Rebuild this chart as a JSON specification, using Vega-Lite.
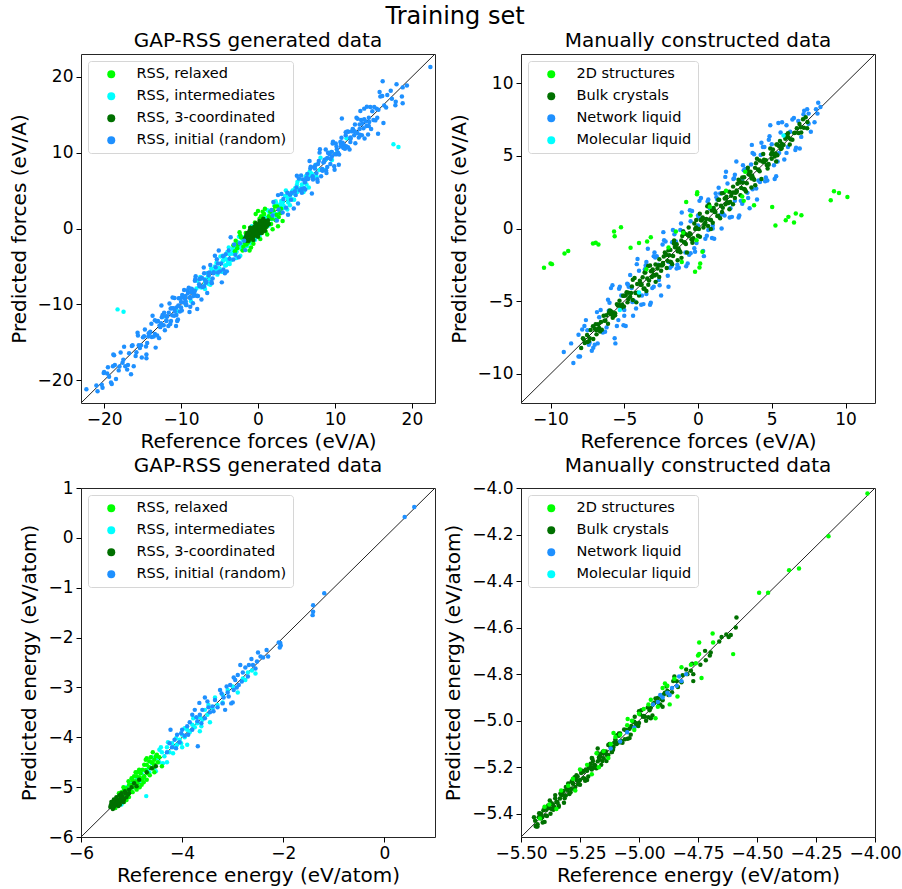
{
"$schema": "https://vega.github.io/schema/vega-lite/v6.json",
"title": {"text": "Training set", "fontSize": 24, "anchor": "middle", "frame": "bounds", "offset": 1},
"padding": {"left": 8, "top": 5, "right": 5, "bottom": 5},
"bounds": "flush",
"columns": 2,
"spacing": {"row": 85, "column": 86},
"resolve": {"scale": {"color": "independent"}, "legend": {"color": "independent"}},
"datasets": {
"tl": [
{"s":"M","x":-9.5,"y":-9.1},{"s":"M","x":-8.7,"y":-9.6},{"s":"M","x":-8.0,"y":-7.9},{"s":"M","x":-7.5,"y":-6.4},{"s":"M","x":-7.0,"y":-7.5},{"s":"M","x":-6.6,"y":-5.9},{"s":"M","x":-6.2,"y":-7.4},{"s":"M","x":-5.8,"y":-5.6},{"s":"M","x":-5.4,"y":-4.5},{"s":"M","x":-5.0,"y":-5.3},{"s":"M","x":-4.7,"y":-5.7},{"s":"M","x":-4.4,"y":-3.8},{"s":"M","x":-4.1,"y":-4.1},{"s":"M","x":-3.8,"y":-2.5},{"s":"M","x":-3.5,"y":-4.2},{"s":"M","x":-3.2,"y":-2.9},{"s":"M","x":-2.9,"y":-3.1},{"s":"M","x":-2.6,"y":-1.8},{"s":"M","x":-2.3,"y":-3.6},{"s":"M","x":-2.0,"y":-1.5},{"s":"M","x":-1.7,"y":-1.3},{"s":"M","x":-1.4,"y":-2.3},{"s":"M","x":-1.1,"y":-1.0},{"s":"M","x":-0.8,"y":0.3},{"s":"M","x":-0.5,"y":-1.0},{"s":"M","x":-0.2,"y":0.5},{"s":"M","x":0.2,"y":-1.0},{"s":"M","x":0.5,"y":0.7},{"s":"M","x":0.8,"y":1.7},{"s":"M","x":1.1,"y":0.8},{"s":"M","x":1.4,"y":0.4},{"s":"M","x":1.7,"y":2.3},{"s":"M","x":2.0,"y":2.0},{"s":"M","x":2.3,"y":3.6},{"s":"M","x":2.6,"y":1.9},{"s":"M","x":2.9,"y":3.2},{"s":"M","x":3.2,"y":3.0},{"s":"M","x":3.5,"y":4.3},{"s":"M","x":3.8,"y":2.5},{"s":"M","x":4.1,"y":4.6},{"s":"M","x":4.4,"y":4.8},{"s":"M","x":4.7,"y":3.8},{"s":"M","x":5.0,"y":5.1},{"s":"M","x":5.4,"y":6.5},{"s":"M","x":5.8,"y":5.3},{"s":"M","x":6.2,"y":6.9},{"s":"M","x":6.6,"y":5.4},{"s":"M","x":7.0,"y":7.2},{"s":"M","x":7.5,"y":8.4},{"s":"M","x":8.0,"y":7.7},{"s":"M","x":8.7,"y":7.7},{"s":"M","x":9.5,"y":10.1},
{"s":"M","x":-9.38,"y":-10.08},{"s":"M","x":-8.58,"y":-8.08},{"s":"M","x":-7.88,"y":-6.88},{"s":"M","x":-7.38,"y":-7.78},{"s":"M","x":-6.88,"y":-7.98},{"s":"M","x":-6.48,"y":-6.28},{"s":"M","x":-6.08,"y":-5.28},{"s":"M","x":-5.68,"y":-5.78},{"s":"M","x":-5.28,"y":-6.08},{"s":"M","x":-4.88,"y":-3.68},{"s":"M","x":-4.58,"y":-4.28},{"s":"M","x":-4.28,"y":-4.88},{"s":"M","x":-3.98,"y":-3.08},{"s":"M","x":-3.68,"y":-4.68},{"s":"M","x":-3.38,"y":-3.28},{"s":"M","x":-3.08,"y":-2.48},{"s":"M","x":-2.78,"y":-3.08},{"s":"M","x":-2.48,"y":-1.08},{"s":"M","x":-2.18,"y":-2.68},{"s":"M","x":-1.88,"y":-2.08},{"s":"M","x":-1.58,"y":-2.28},{"s":"M","x":-1.28,"y":-0.78},{"s":"M","x":-0.98,"y":0.02},{"s":"M","x":-0.68,"y":-1.08},{"s":"M","x":-0.38,"y":-1.48},{"s":"M","x":-0.08,"y":0.12},{"s":"M","x":0.32,"y":1.12},{"s":"M","x":0.62,"y":0.52},{"s":"M","x":0.92,"y":0.12},{"s":"M","x":1.22,"y":2.42},{"s":"M","x":1.52,"y":1.82},{"s":"M","x":1.82,"y":1.22},{"s":"M","x":2.12,"y":3.02},{"s":"M","x":2.42,"y":1.42},{"s":"M","x":2.72,"y":2.82},{"s":"M","x":3.02,"y":3.62},{"s":"M","x":3.32,"y":3.02},{"s":"M","x":3.62,"y":5.02},{"s":"M","x":3.92,"y":3.42},{"s":"M","x":4.22,"y":4.02},{"s":"M","x":4.52,"y":3.82},{"s":"M","x":4.82,"y":5.32},{"s":"M","x":5.12,"y":6.12},{"s":"M","x":5.52,"y":5.12},{"s":"M","x":5.92,"y":4.82},{"s":"M","x":6.32,"y":6.52},{"s":"M","x":6.72,"y":7.52},{"s":"M","x":7.12,"y":7.02},{"s":"M","x":7.62,"y":6.82},{"s":"M","x":8.12,"y":9.32},{"s":"M","x":8.82,"y":9.12},{"s":"M","x":9.62,"y":9.02},
{"s":"M","x":-6.9,"y":-6.7},{"s":"M","x":-6.3,"y":-6.7},{"s":"M","x":-5.6,"y":-5.0},{"s":"M","x":-5.1,"y":-5.2},{"s":"M","x":-4.5,"y":-4.2},{"s":"M","x":-3.9,"y":-4.5},{"s":"M","x":-3.3,"y":-3.3},{"s":"M","x":-2.7,"y":-2.2},{"s":"M","x":-2.1,"y":-2.4},{"s":"M","x":-1.5,"y":-1.4},{"s":"M","x":-0.9,"y":-1.4},{"s":"M","x":-0.3,"y":0.1},{"s":"M","x":0.3,"y":0.5},{"s":"M","x":0.9,"y":0.5},{"s":"M","x":1.5,"y":2.1},{"s":"M","x":2.1,"y":2.0},{"s":"M","x":2.7,"y":3.0},{"s":"M","x":3.3,"y":2.7},{"s":"M","x":3.9,"y":3.9},{"s":"M","x":4.5,"y":5.0},{"s":"M","x":5.1,"y":4.8},{"s":"M","x":5.7,"y":5.8},{"s":"M","x":6.3,"y":5.8},{"s":"M","x":6.9,"y":7.3},
{"s":"M","x":-7.3,"y":-6.6},{"s":"M","x":-6.85,"y":-7.05},{"s":"M","x":-6.4,"y":-7.3},{"s":"M","x":-5.95,"y":-5.55},{"s":"M","x":-5.5,"y":-5.4},{"s":"M","x":-5.05,"y":-5.55},{"s":"M","x":-4.6,"y":-3.6},{"s":"M","x":-4.15,"y":-4.85},{"s":"M","x":-3.7,"y":-3.4},{"s":"M","x":-3.25,"y":-2.65},{"s":"M","x":-2.8,"y":-3.9},{"s":"M","x":-2.35,"y":-2.35},{"s":"M","x":-1.9,"y":-1.2},{"s":"M","x":-1.45,"y":-1.65},{"s":"M","x":-1.0,"y":-1.9},{"s":"M","x":1.0,"y":1.4},{"s":"M","x":1.45,"y":1.55},{"s":"M","x":1.9,"y":1.4},{"s":"M","x":2.35,"y":3.35},{"s":"M","x":2.8,"y":2.1},{"s":"M","x":3.25,"y":3.55},{"s":"M","x":3.7,"y":4.3},{"s":"M","x":4.15,"y":3.05},{"s":"M","x":4.6,"y":4.6},{"s":"M","x":5.05,"y":5.75},{"s":"M","x":5.5,"y":5.3},{"s":"M","x":5.95,"y":5.05},{"s":"M","x":6.4,"y":6.8},{"s":"M","x":6.85,"y":6.95},{"s":"M","x":7.3,"y":6.8},
{"s":"M","x":-18.25,"y":-10.66},{"s":"M","x":-17.47,"y":-10.97},{"s":"M","x":17.6,"y":11.09},{"s":"M","x":18.25,"y":10.74},{"s":"M","x":-12.3,"y":-11.6},{"s":"M","x":11.5,"y":11.9},{"s":"M","x":-10.5,"y":-10.9},{"s":"M","x":10.3,"y":10.0},
{"s":"R","x":-2.6,"y":-2.1},{"s":"R","x":-2.2,"y":-1.2},{"s":"R","x":-1.9,"y":-2.4},{"s":"R","x":-1.6,"y":-0.6},{"s":"R","x":-1.3,"y":-1.8},{"s":"R","x":-1.0,"y":0.1},{"s":"R","x":-0.7,"y":-1.5},{"s":"R","x":-0.4,"y":0.8},{"s":"R","x":-0.1,"y":-0.9},{"s":"R","x":0.2,"y":1.3},{"s":"R","x":0.5,"y":-0.4},{"s":"R","x":0.8,"y":1.9},{"s":"R","x":1.1,"y":0.2},{"s":"R","x":1.4,"y":1.6},{"s":"R","x":1.7,"y":0.6},{"s":"R","x":2.0,"y":2.4},{"s":"R","x":2.3,"y":1.1},{"s":"R","x":2.6,"y":0.3},{"s":"R","x":2.9,"y":2.0},{"s":"R","x":-2.9,"y":-1.6},{"s":"R","x":-0.3,"y":1.9},{"s":"R","x":0.3,"y":-1.4},{"s":"R","x":1.9,"y":-0.1},{"s":"R","x":-1.8,"y":0.2},{"s":"R","x":0.9,"y":2.6},{"s":"R","x":-0.9,"y":-2.5},{"s":"R","x":2.2,"y":2.9},{"s":"R","x":3.2,"y":1.0},{"s":"R","x":-3.0,"y":-3.0},{"s":"R","x":1.2,"y":-0.8},{"s":"R","x":-1.1,"y":-2.9},{"s":"R","x":0.0,"y":2.3},{"s":"R","x":2.7,"y":1.5},{"s":"R","x":-2.4,"y":-0.5},
{"s":"R","x":-2.0,"y":-2.9},{"s":"R","x":-2.7,"y":-2.6},{"s":"R","x":-1.5,"y":-2.1},{"s":"R","x":1.6,"y":2.2},{"s":"R","x":2.4,"y":1.8},{"s":"R","x":2.5,"y":2.9},{"s":"R","x":1.0,"y":-0.4},{"s":"R","x":-0.6,"y":-2.0},{"s":"R","x":-2.3,"y":-0.9},{"s":"R","x":0.6,"y":2.2},{"s":"R","x":1.8,"y":1.3},{"s":"R","x":-1.7,"y":-1.9},{"s":"R","x":3.0,"y":2.6},{"s":"R","x":-3.2,"y":-2.2},{"s":"R","x":0.4,"y":1.6},
{"s":"C","x":-1.6,"y":-1.2},{"s":"C","x":-1.4,"y":-0.6},{"s":"C","x":-1.3,"y":-1.4},{"s":"C","x":-1.2,"y":-0.9},{"s":"C","x":-1.1,"y":-0.3},{"s":"C","x":-1.0,"y":-1.1},{"s":"C","x":-0.9,"y":-0.6},{"s":"C","x":-0.8,"y":-1.3},{"s":"C","x":-0.8,"y":-0.1},{"s":"C","x":-0.7,"y":-0.8},{"s":"C","x":-0.6,"y":-0.4},{"s":"C","x":-0.5,"y":-1.0},{"s":"C","x":-0.5,"y":0.2},{"s":"C","x":-0.4,"y":-0.6},{"s":"C","x":-0.3,"y":-0.1},{"s":"C","x":-0.2,"y":-0.9},{"s":"C","x":-0.2,"y":0.4},{"s":"C","x":-0.1,"y":-0.4},{"s":"C","x":0.0,"y":0.1},{"s":"C","x":0.1,"y":-0.7},{"s":"C","x":0.1,"y":0.6},{"s":"C","x":0.2,"y":-0.2},{"s":"C","x":0.3,"y":0.3},{"s":"C","x":0.4,"y":-0.5},{"s":"C","x":0.4,"y":0.9},{"s":"C","x":0.5,"y":0.1},{"s":"C","x":0.6,"y":0.6},{"s":"C","x":0.7,"y":-0.2},{"s":"C","x":0.8,"y":0.4},{"s":"C","x":0.9,"y":1.0},{"s":"C","x":1.0,"y":0.2},{"s":"C","x":1.1,"y":0.7},{"s":"C","x":1.2,"y":0.4},{"s":"C","x":1.3,"y":1.1},{"s":"C","x":-1.5,"y":-1.6},{"s":"C","x":-0.6,"y":-1.5},{"s":"C","x":0.2,"y":1.0},{"s":"C","x":0.7,"y":1.3},{"s":"C","x":-1.0,"y":0.1},{"s":"C","x":0.9,"y":-0.3},{"s":"C","x":1.4,"y":0.6},{"s":"C","x":-0.3,"y":0.7},{"s":"C","x":0.0,"y":-1.1},
{"s":"C","x":-1.5,"y":-0.9},{"s":"C","x":-1.2,"y":-1.6},{"s":"C","x":-0.7,"y":-0.2},{"s":"C","x":0.2,"y":0.1},{"s":"C","x":0.5,"y":-0.6},{"s":"C","x":0.6,"y":1.1},{"s":"C","x":1.0,"y":0.8},{"s":"C","x":-0.4,"y":0.3},{"s":"C","x":-0.9,"y":-1.0},{"s":"C","x":0.3,"y":-0.3},{"s":"C","x":1.2,"y":0.9},{"s":"C","x":-1.1,"y":-0.7},{"s":"C","x":0.8,"y":0.0},{"s":"C","x":-0.2,"y":-0.6},{"s":"C","x":-1.7,"y":-1.3},
{"s":"I","x":-21.0,"y":-20.7},{"s":"I","x":-20.2,"y":-21.0},{"s":"I","x":-19.5,"y":-18.3},{"s":"I","x":-19.0,"y":-20.5},{"s":"I","x":-18.6,"y":-18.0},{"s":"I","x":-18.0,"y":-18.2},{"s":"I","x":-17.4,"y":-15.6},{"s":"I","x":-16.9,"y":-18.0},{"s":"I","x":-16.3,"y":-15.4},{"s":"I","x":-15.8,"y":-16.3},{"s":"I","x":-15.5,"y":-15.4},{"s":"I","x":-15.1,"y":-17.0},{"s":"I","x":-14.7,"y":-13.3},{"s":"I","x":-14.4,"y":-15.1},{"s":"I","x":-14.0,"y":-13.6},{"s":"I","x":-13.7,"y":-11.5},{"s":"I","x":-13.3,"y":-15.7},{"s":"I","x":-13.0,"y":-12.2},{"s":"I","x":-12.7,"y":-13.0},{"s":"I","x":-12.4,"y":-11.4},{"s":"I","x":-12.1,"y":-13.4},{"s":"I","x":-11.8,"y":-11.6},{"s":"I","x":-11.5,"y":-9.9},{"s":"I","x":-11.3,"y":-12.2},{"s":"I","x":-11.0,"y":-10.5},{"s":"I","x":-10.8,"y":-10.9},{"s":"I","x":-10.5,"y":-12.2},{"s":"I","x":-10.3,"y":-9.2},{"s":"I","x":-10.0,"y":-10.4},{"s":"I","x":-9.8,"y":-9.1},{"s":"I","x":-9.5,"y":-9.2},{"s":"I","x":-9.3,"y":-10.1},{"s":"I","x":-9.0,"y":-7.8},{"s":"I","x":-8.8,"y":-10.3},{"s":"I","x":-8.6,"y":-8.0},{"s":"I","x":-8.3,"y":-8.5},{"s":"I","x":-8.1,"y":-6.3},{"s":"I","x":-7.8,"y":-8.9},{"s":"I","x":-7.5,"y":-6.6},{"s":"I","x":-7.2,"y":-7.7},{"s":"I","x":-6.9,"y":-6.8},{"s":"I","x":-6.6,"y":-8.5},{"s":"I","x":-6.2,"y":-4.8},{"s":"I","x":-5.9,"y":-6.6},{"s":"I","x":-5.5,"y":-5.1},{"s":"I","x":-5.1,"y":-2.9},{"s":"I","x":-4.7,"y":-7.1},{"s":"I","x":-4.2,"y":-3.4},{"s":"I","x":-3.7,"y":-4.0},{"s":"I","x":-3.1,"y":-2.1},{"s":"I","x":-2.5,"y":-3.8},{"s":"I","x":-1.8,"y":-1.6},
{"s":"I","x":-20.85,"y":-21.45},{"s":"I","x":-20.05,"y":-19.05},{"s":"I","x":-19.35,"y":-19.55},{"s":"I","x":-18.85,"y":-18.15},{"s":"I","x":-18.45,"y":-19.85},{"s":"I","x":-17.85,"y":-16.35},{"s":"I","x":-17.25,"y":-18.15},{"s":"I","x":-16.75,"y":-16.45},{"s":"I","x":-16.15,"y":-18.15},{"s":"I","x":-15.65,"y":-13.75},{"s":"I","x":-15.35,"y":-15.75},{"s":"I","x":-14.95,"y":-14.35},{"s":"I","x":-14.55,"y":-15.55},{"s":"I","x":-14.25,"y":-14.25},{"s":"I","x":-13.85,"y":-12.55},{"s":"I","x":-13.55,"y":-14.25},{"s":"I","x":-13.15,"y":-12.25},{"s":"I","x":-12.85,"y":-14.45},{"s":"I","x":-12.55,"y":-10.15},{"s":"I","x":-12.25,"y":-12.75},{"s":"I","x":-11.95,"y":-11.55},{"s":"I","x":-11.65,"y":-12.85},{"s":"I","x":-11.35,"y":-10.55},{"s":"I","x":-11.15,"y":-11.45},{"s":"I","x":-10.85,"y":-9.15},{"s":"I","x":-10.65,"y":-12.85},{"s":"I","x":-10.35,"y":-10.15},{"s":"I","x":-10.15,"y":-10.95},{"s":"I","x":-9.85,"y":-8.75},{"s":"I","x":-9.65,"y":-9.75},{"s":"I","x":-9.35,"y":-9.95},{"s":"I","x":-9.15,"y":-8.15},{"s":"I","x":-8.85,"y":-9.05},{"s":"I","x":-8.65,"y":-7.95},{"s":"I","x":-8.45,"y":-9.85},{"s":"I","x":-8.15,"y":-6.65},{"s":"I","x":-7.95,"y":-8.85},{"s":"I","x":-7.65,"y":-7.35},{"s":"I","x":-7.35,"y":-9.35},{"s":"I","x":-7.05,"y":-5.15},{"s":"I","x":-6.75,"y":-7.15},{"s":"I","x":-6.45,"y":-5.85},{"s":"I","x":-6.05,"y":-7.05},{"s":"I","x":-5.75,"y":-5.75},{"s":"I","x":-5.35,"y":-4.05},{"s":"I","x":-4.95,"y":-5.65},{"s":"I","x":-4.55,"y":-3.65},{"s":"I","x":-4.05,"y":-5.65},{"s":"I","x":-3.55,"y":-1.15},{"s":"I","x":-2.95,"y":-3.45},{"s":"I","x":-2.35,"y":-1.95},{"s":"I","x":-1.65,"y":-2.85},
{"s":"I","x":-20.0,"y":-18.9},{"s":"I","x":-20.3,"y":-20.6},{"s":"I","x":-19.6,"y":-19.1},{"s":"I","x":-19.1,"y":-20.3},{"s":"I","x":-18.7,"y":-16.7},{"s":"I","x":-18.1,"y":-18.7},{"s":"I","x":-17.5,"y":-17.3},{"s":"I","x":-17.0,"y":-18.6},{"s":"I","x":-16.4,"y":-15.5},{"s":"I","x":-15.9,"y":-16.8},{"s":"I","x":-15.6,"y":-14.1},{"s":"I","x":-15.2,"y":-15.4},{"s":"I","x":-14.8,"y":-14.2},{"s":"I","x":-14.5,"y":-16.6},{"s":"I","x":-14.1,"y":-13.8},{"s":"I","x":-13.8,"y":-14.3},{"s":"I","x":-13.4,"y":-12.1},{"s":"I","x":-13.1,"y":-14.1},{"s":"I","x":-12.8,"y":-12.8},{"s":"I","x":-12.5,"y":-11.7},{"s":"I","x":-12.2,"y":-11.1},{"s":"I","x":-11.9,"y":-12.2},{"s":"I","x":-11.6,"y":-11.1},{"s":"I","x":-11.4,"y":-12.6},{"s":"I","x":-11.1,"y":-9.1},{"s":"I","x":-10.9,"y":-11.5},{"s":"I","x":-10.6,"y":-10.4},{"s":"I","x":-10.4,"y":-12.0},{"s":"I","x":-10.1,"y":-9.2},{"s":"I","x":-9.9,"y":-10.8},{"s":"I","x":-9.6,"y":-8.1},{"s":"I","x":-9.4,"y":-9.6},{"s":"I","x":-9.1,"y":-8.5},{"s":"I","x":-8.9,"y":-11.0},{"s":"I","x":-8.7,"y":-8.4},{"s":"I","x":-8.4,"y":-8.9},{"s":"I","x":-8.2,"y":-6.9},{"s":"I","x":-7.9,"y":-8.9},{"s":"I","x":-7.6,"y":-7.6},{"s":"I","x":-7.3,"y":-6.5},{"s":"I","x":-7.0,"y":-5.9},{"s":"I","x":-6.7,"y":-7.0},{"s":"I","x":-6.3,"y":-5.8},{"s":"I","x":-6.0,"y":-7.2},{"s":"I","x":-5.6,"y":-3.6},{"s":"I","x":-5.2,"y":-5.8},{"s":"I","x":-4.8,"y":-4.6},{"s":"I","x":-4.3,"y":-5.9},{"s":"I","x":-3.8,"y":-2.9},{"s":"I","x":-3.2,"y":-4.1},
{"s":"I","x":-14.2,"y":-13.8},{"s":"I","x":-13.4,"y":-13.9},{"s":"I","x":-12.6,"y":-12.5},{"s":"I","x":-11.9,"y":-12.1},{"s":"I","x":-11.2,"y":-10.5},{"s":"I","x":-10.6,"y":-11.4},{"s":"I","x":-10.0,"y":-9.7},{"s":"I","x":-9.4,"y":-8.9},{"s":"I","x":-8.8,"y":-9.2},{"s":"I","x":-8.2,"y":-8.2},{"s":"I","x":-7.6,"y":-6.7},{"s":"I","x":-7.0,"y":-7.6},{"s":"I","x":-6.4,"y":-6.2},{"s":"I","x":-5.8,"y":-5.9},{"s":"I","x":-5.2,"y":-4.6},{"s":"I","x":-4.5,"y":-5.4},{"s":"I","x":5.0,"y":5.4},{"s":"I","x":5.7,"y":5.2},{"s":"I","x":6.4,"y":6.5},{"s":"I","x":7.1,"y":6.9},{"s":"I","x":7.8,"y":8.5},{"s":"I","x":8.4,"y":7.6},{"s":"I","x":9.0,"y":9.3},{"s":"I","x":9.6,"y":10.1},{"s":"I","x":10.2,"y":9.8},{"s":"I","x":10.8,"y":10.8},{"s":"I","x":11.4,"y":12.3},{"s":"I","x":12.0,"y":11.4},{"s":"I","x":12.6,"y":12.8},{"s":"I","x":13.2,"y":13.1},{"s":"I","x":13.8,"y":14.4},{"s":"I","x":14.4,"y":13.5},
{"s":"I","x":1.9,"y":1.7},{"s":"I","x":2.6,"y":4.4},{"s":"I","x":3.2,"y":2.1},{"s":"I","x":3.8,"y":4.7},{"s":"I","x":4.3,"y":3.8},{"s":"I","x":4.8,"y":4.9},{"s":"I","x":5.2,"y":3.3},{"s":"I","x":5.6,"y":7.0},{"s":"I","x":6.0,"y":5.3},{"s":"I","x":6.3,"y":6.7},{"s":"I","x":6.7,"y":8.9},{"s":"I","x":7.0,"y":4.6},{"s":"I","x":7.3,"y":8.1},{"s":"I","x":7.6,"y":7.3},{"s":"I","x":7.9,"y":8.9},{"s":"I","x":8.2,"y":6.9},{"s":"I","x":8.5,"y":8.7},{"s":"I","x":8.8,"y":10.4},{"s":"I","x":9.0,"y":8.1},{"s":"I","x":9.3,"y":9.8},{"s":"I","x":9.6,"y":9.5},{"s":"I","x":9.9,"y":8.2},{"s":"I","x":10.1,"y":11.2},{"s":"I","x":10.4,"y":10.0},{"s":"I","x":10.7,"y":11.4},{"s":"I","x":11.0,"y":11.3},{"s":"I","x":11.3,"y":10.5},{"s":"I","x":11.6,"y":12.8},{"s":"I","x":11.9,"y":10.4},{"s":"I","x":12.2,"y":12.8},{"s":"I","x":12.5,"y":12.3},{"s":"I","x":12.8,"y":14.6},{"s":"I","x":13.1,"y":12.0},{"s":"I","x":13.4,"y":14.3},{"s":"I","x":13.7,"y":13.2},{"s":"I","x":14.0,"y":14.1},{"s":"I","x":14.3,"y":12.4},{"s":"I","x":14.6,"y":16.0},{"s":"I","x":15.0,"y":14.3},{"s":"I","x":15.4,"y":15.8},{"s":"I","x":15.8,"y":18.0},{"s":"I","x":16.3,"y":13.9},{"s":"I","x":16.8,"y":17.6},{"s":"I","x":17.4,"y":17.1},{"s":"I","x":18.0,"y":19.0},{"s":"I","x":18.7,"y":17.4},{"s":"I","x":16.2,"y":19.4},{"s":"I","x":18.8,"y":18.6},
{"s":"I","x":1.75,"y":2.45},{"s":"I","x":2.45,"y":1.05},{"s":"I","x":3.05,"y":4.55},{"s":"I","x":3.65,"y":2.75},{"s":"I","x":4.15,"y":4.45},{"s":"I","x":4.65,"y":2.65},{"s":"I","x":5.05,"y":6.95},{"s":"I","x":5.45,"y":5.05},{"s":"I","x":5.85,"y":6.45},{"s":"I","x":6.15,"y":5.15},{"s":"I","x":6.55,"y":6.55},{"s":"I","x":6.85,"y":8.15},{"s":"I","x":7.15,"y":6.45},{"s":"I","x":7.45,"y":8.35},{"s":"I","x":7.75,"y":6.15},{"s":"I","x":8.05,"y":10.45},{"s":"I","x":8.35,"y":7.85},{"s":"I","x":8.65,"y":9.05},{"s":"I","x":8.85,"y":7.65},{"s":"I","x":9.15,"y":9.95},{"s":"I","x":9.45,"y":9.15},{"s":"I","x":9.75,"y":11.45},{"s":"I","x":9.95,"y":7.75},{"s":"I","x":10.25,"y":10.45},{"s":"I","x":10.55,"y":9.75},{"s":"I","x":10.85,"y":11.95},{"s":"I","x":11.15,"y":11.05},{"s":"I","x":11.45,"y":10.85},{"s":"I","x":11.75,"y":12.75},{"s":"I","x":12.05,"y":11.85},{"s":"I","x":12.35,"y":13.05},{"s":"I","x":12.65,"y":11.25},{"s":"I","x":12.95,"y":14.45},{"s":"I","x":13.25,"y":12.35},{"s":"I","x":13.55,"y":13.85},{"s":"I","x":13.85,"y":11.85},{"s":"I","x":14.15,"y":16.05},{"s":"I","x":14.45,"y":14.05},{"s":"I","x":14.85,"y":15.45},{"s":"I","x":15.25,"y":14.25},{"s":"I","x":15.65,"y":15.65},{"s":"I","x":16.15,"y":17.45},{"s":"I","x":16.65,"y":15.95},{"s":"I","x":17.25,"y":18.15},{"s":"I","x":17.85,"y":16.25},{"s":"I","x":17.9,"y":16.7},{"s":"I","x":19.35,"y":18.85},{"s":"I","x":18.8,"y":16.5},
{"s":"I","x":2.0,"y":3.5},{"s":"I","x":2.7,"y":2.5},{"s":"I","x":3.3,"y":3.9},{"s":"I","x":3.9,"y":1.8},{"s":"I","x":4.4,"y":4.7},{"s":"I","x":4.9,"y":4.4},{"s":"I","x":5.3,"y":6.6},{"s":"I","x":5.7,"y":4.7},{"s":"I","x":6.1,"y":6.1},{"s":"I","x":6.4,"y":7.2},{"s":"I","x":6.8,"y":7.9},{"s":"I","x":7.1,"y":6.8},{"s":"I","x":7.4,"y":7.9},{"s":"I","x":7.7,"y":6.5},{"s":"I","x":8.0,"y":10.0},{"s":"I","x":8.3,"y":7.7},{"s":"I","x":8.6,"y":8.8},{"s":"I","x":8.9,"y":7.3},{"s":"I","x":9.1,"y":10.0},{"s":"I","x":9.4,"y":8.5},{"s":"I","x":9.7,"y":11.2},{"s":"I","x":10.0,"y":9.8},{"s":"I","x":10.2,"y":10.8},{"s":"I","x":10.5,"y":8.4},{"s":"I","x":10.8,"y":11.1},{"s":"I","x":11.1,"y":10.6},{"s":"I","x":11.4,"y":12.7},{"s":"I","x":11.7,"y":10.7},{"s":"I","x":12.0,"y":12.0},{"s":"I","x":12.3,"y":13.1},{"s":"I","x":12.6,"y":13.7},{"s":"I","x":12.9,"y":12.6},{"s":"I","x":13.2,"y":13.7},{"s":"I","x":13.5,"y":12.3},{"s":"I","x":13.8,"y":15.8},{"s":"I","x":14.1,"y":13.5},{"s":"I","x":14.4,"y":14.6},{"s":"I","x":14.7,"y":13.1},{"s":"I","x":15.1,"y":16.0},{"s":"I","x":15.5,"y":14.6},{"s":"I","x":15.9,"y":17.4},{"s":"I","x":16.4,"y":16.2},
{"s":"I","x":-22.3,"y":-21.2},{"s":"I","x":22.4,"y":21.3},{"s":"I","x":-18.8,"y":-16.6},{"s":"I","x":-16.5,"y":-19.2},{"s":"I","x":-14.5,"y":-17.1},{"s":"I","x":10.9,"y":14.5},{"s":"I","x":15.6,"y":12.5},{"s":"I","x":-7.9,"y":-10.6},{"s":"I","x":13.3,"y":15.5},{"s":"I","x":-17.6,"y":-17.7}
],
"tr": [
{"s":"N","x":-8.6,"y":-7.9},{"s":"N","x":-8.0,"y":-8.8},{"s":"N","x":-7.5,"y":-7.0},{"s":"N","x":-7.0,"y":-8.0},{"s":"N","x":-6.6,"y":-5.6},{"s":"N","x":-6.2,"y":-6.8},{"s":"N","x":-5.8,"y":-3.9},{"s":"N","x":-5.5,"y":-6.7},{"s":"N","x":-5.2,"y":-4.6},{"s":"N","x":-4.9,"y":-6.7},{"s":"N","x":-4.6,"y":-3.2},{"s":"N","x":-4.3,"y":-5.0},{"s":"N","x":-4.0,"y":-2.9},{"s":"N","x":-3.7,"y":-5.2},{"s":"N","x":-3.4,"y":-1.4},{"s":"N","x":-3.1,"y":-4.1},{"s":"N","x":-2.8,"y":-1.9},{"s":"N","x":-2.5,"y":-4.6},{"s":"N","x":-2.2,"y":-0.9},{"s":"N","x":-1.9,"y":-2.7},{"s":"N","x":-1.6,"y":-0.4},{"s":"N","x":-1.3,"y":-2.7},{"s":"N","x":-1.0,"y":-0.2},{"s":"N","x":-0.7,"y":-2.4},{"s":"N","x":-0.4,"y":1.2},{"s":"N","x":-0.1,"y":-1.0},{"s":"N","x":0.2,"y":2.1},{"s":"N","x":0.5,"y":-0.7},{"s":"N","x":0.8,"y":1.4},{"s":"N","x":1.1,"y":-0.7},{"s":"N","x":1.4,"y":2.8},{"s":"N","x":1.7,"y":1.0},{"s":"N","x":2.0,"y":3.1},{"s":"N","x":2.3,"y":0.8},{"s":"N","x":2.6,"y":4.6},{"s":"N","x":2.9,"y":1.9},{"s":"N","x":3.2,"y":4.1},{"s":"N","x":3.5,"y":1.4},{"s":"N","x":3.8,"y":5.1},{"s":"N","x":4.1,"y":3.3},{"s":"N","x":4.4,"y":5.6},{"s":"N","x":4.7,"y":3.3},{"s":"N","x":5.0,"y":5.8},{"s":"N","x":5.3,"y":3.6},{"s":"N","x":5.7,"y":7.3},{"s":"N","x":6.1,"y":5.6},{"s":"N","x":6.5,"y":7.6},{"s":"N","x":7.0,"y":6.3},{"s":"N","x":7.5,"y":7.9},{"s":"N","x":8.0,"y":8.2},
{"s":"N","x":-8.45,"y":-9.25},{"s":"N","x":-7.85,"y":-6.95},{"s":"N","x":-7.35,"y":-7.85},{"s":"N","x":-6.85,"y":-5.75},{"s":"N","x":-6.45,"y":-7.15},{"s":"N","x":-6.05,"y":-5.65},{"s":"N","x":-5.65,"y":-7.55},{"s":"N","x":-5.35,"y":-4.15},{"s":"N","x":-5.05,"y":-6.65},{"s":"N","x":-4.75,"y":-3.85},{"s":"N","x":-4.45,"y":-5.05},{"s":"N","x":-4.15,"y":-2.45},{"s":"N","x":-3.85,"y":-5.25},{"s":"N","x":-3.55,"y":-2.55},{"s":"N","x":-3.25,"y":-5.25},{"s":"N","x":-2.95,"y":-1.65},{"s":"N","x":-2.65,"y":-3.55},{"s":"N","x":-2.35,"y":-0.25},{"s":"N","x":-2.05,"y":-3.25},{"s":"N","x":-1.75,"y":-0.95},{"s":"N","x":-1.45,"y":-2.75},{"s":"N","x":-1.15,"y":0.35},{"s":"N","x":-0.85,"y":-1.65},{"s":"N","x":-0.55,"y":1.25},{"s":"N","x":-0.25,"y":-1.35},{"s":"N","x":0.05,"y":0.75},{"s":"N","x":0.35,"y":-1.55},{"s":"N","x":0.65,"y":1.85},{"s":"N","x":0.95,"y":-0.65},{"s":"N","x":1.25,"y":2.15},{"s":"N","x":1.55,"y":0.95},{"s":"N","x":1.85,"y":3.55},{"s":"N","x":2.15,"y":0.75},{"s":"N","x":2.45,"y":3.45},{"s":"N","x":2.75,"y":0.75},{"s":"N","x":3.05,"y":4.35},{"s":"N","x":3.35,"y":2.45},{"s":"N","x":3.65,"y":5.75},{"s":"N","x":3.95,"y":2.75},{"s":"N","x":4.25,"y":5.05},{"s":"N","x":4.55,"y":3.25},{"s":"N","x":4.85,"y":6.35},{"s":"N","x":5.15,"y":4.35},{"s":"N","x":5.45,"y":7.25},{"s":"N","x":5.85,"y":4.75},{"s":"N","x":6.25,"y":6.65},{"s":"N","x":6.65,"y":5.55},{"s":"N","x":7.15,"y":7.85},{"s":"N","x":7.65,"y":6.65},{"s":"N","x":8.15,"y":8.65},
{"s":"N","x":-7.7,"y":-6.7},{"s":"N","x":-8.1,"y":-8.8},{"s":"N","x":-7.6,"y":-6.3},{"s":"N","x":-7.1,"y":-8.2},{"s":"N","x":-6.7,"y":-6.1},{"s":"N","x":-6.3,"y":-7.1},{"s":"N","x":-5.9,"y":-4.1},{"s":"N","x":-5.6,"y":-7.9},{"s":"N","x":-5.3,"y":-4.0},{"s":"N","x":-5.0,"y":-6.0},{"s":"N","x":-4.7,"y":-4.0},{"s":"N","x":-4.4,"y":-6.0},{"s":"N","x":-4.1,"y":-2.1},{"s":"N","x":-3.8,"y":-4.6},{"s":"N","x":-3.5,"y":-2.3},{"s":"N","x":-3.2,"y":-5.1},{"s":"N","x":-2.9,"y":-2.0},{"s":"N","x":-2.6,"y":-3.9},{"s":"N","x":-2.3,"y":-0.8},{"s":"N","x":-2.0,"y":-4.0},{"s":"N","x":-1.7,"y":-0.1},{"s":"N","x":-1.4,"y":-2.5},{"s":"N","x":-1.1,"y":1.1},{"s":"N","x":-0.8,"y":-2.6},{"s":"N","x":-0.5,"y":0.5},{"s":"N","x":-0.2,"y":-1.6},{"s":"N","x":0.1,"y":1.9},{"s":"N","x":0.4,"y":-1.9},{"s":"N","x":0.7,"y":2.0},{"s":"N","x":1.0,"y":0.0},{"s":"N","x":1.3,"y":2.0},{"s":"N","x":1.6,"y":0.0},{"s":"N","x":1.9,"y":3.9},{"s":"N","x":2.2,"y":1.4},{"s":"N","x":2.5,"y":3.7},{"s":"N","x":2.8,"y":0.9},{"s":"N","x":3.1,"y":4.0},{"s":"N","x":3.4,"y":2.1},{"s":"N","x":3.7,"y":5.2},{"s":"N","x":4.0,"y":2.0},{"s":"N","x":4.3,"y":5.9},{"s":"N","x":4.6,"y":3.5},{"s":"N","x":4.9,"y":7.1},{"s":"N","x":5.2,"y":3.4},{"s":"N","x":5.6,"y":6.6},{"s":"N","x":6.0,"y":5.2},{"s":"N","x":6.4,"y":7.5},{"s":"N","x":6.9,"y":5.5},{"s":"N","x":7.4,"y":8.2},{"s":"N","x":7.9,"y":7.3},
{"s":"N","x":-6.8,"y":-7.9},{"s":"N","x":-6.1,"y":-4.9},{"s":"N","x":-5.4,"y":-6.3},{"s":"N","x":-4.8,"y":-3.8},{"s":"N","x":-4.2,"y":-5.5},{"s":"N","x":-3.6,"y":-2.8},{"s":"N","x":-3.0,"y":-4.0},{"s":"N","x":-2.4,"y":-1.1},{"s":"N","x":-1.8,"y":-2.6},{"s":"N","x":-1.2,"y":-0.1},{"s":"N","x":-0.6,"y":-1.8},{"s":"N","x":0.0,"y":0.9},{"s":"N","x":0.6,"y":-0.5},{"s":"N","x":1.2,"y":2.4},{"s":"N","x":1.8,"y":0.9},{"s":"N","x":2.4,"y":3.4},{"s":"N","x":3.0,"y":1.7},{"s":"N","x":3.6,"y":4.4},{"s":"N","x":4.2,"y":3.2},{"s":"N","x":4.8,"y":6.1},{"s":"N","x":5.4,"y":4.6},{"s":"N","x":6.0,"y":7.1},{"s":"N","x":6.6,"y":5.4},{"s":"N","x":7.2,"y":8.1},
{"s":"N","x":-6.0,"y":-5.1},{"s":"N","x":-5.0,"y":-5.6},{"s":"N","x":-4.5,"y":-4.1},{"s":"N","x":-3.5,"y":-4.5},{"s":"N","x":-3.0,"y":-1.9},{"s":"N","x":-2.0,"y":-2.3},{"s":"N","x":-1.5,"y":-0.9},{"s":"N","x":-0.5,"y":-1.7},{"s":"N","x":0.0,"y":0.2},{"s":"N","x":1.0,"y":0.2},{"s":"N","x":1.5,"y":2.4},{"s":"N","x":2.5,"y":1.9},{"s":"N","x":3.0,"y":3.4},{"s":"N","x":3.7,"y":2.7},{"s":"N","x":4.5,"y":5.6},{"s":"N","x":5.5,"y":5.2},{"s":"N","x":6.8,"y":7.4},{"s":"N","x":-7.2,"y":-8.4},{"s":"N","x":-2.7,"y":-2.5},{"s":"N","x":0.7,"y":-0.1},
{"s":"N","x":-9.1,"y":-8.5},{"s":"N","x":-8.1,"y":-7.3},{"s":"N","x":-7.4,"y":-8.0},{"s":"N","x":8.3,"y":8.35},{"s":"N","x":8.1,"y":7.9},{"s":"N","x":7.5,"y":7.2},
{"s":"B","x":-7.8,"y":-7.55},{"s":"B","x":-7.4,"y":-7.75},{"s":"B","x":-7.0,"y":-6.9},{"s":"B","x":-6.7,"y":-6.85},{"s":"B","x":-6.4,"y":-6.0},{"s":"B","x":-6.1,"y":-6.55},{"s":"B","x":-5.8,"y":-5.75},{"s":"B","x":-5.5,"y":-5.2},{"s":"B","x":-5.2,"y":-5.45},{"s":"B","x":-4.9,"y":-4.6},{"s":"B","x":-4.6,"y":-4.7},{"s":"B","x":-4.3,"y":-3.4},{"s":"B","x":-4.0,"y":-4.6},{"s":"B","x":-3.75,"y":-3.35},{"s":"B","x":-3.5,"y":-4.3},{"s":"B","x":-3.25,"y":-2.55},{"s":"B","x":-3.0,"y":-3.2},{"s":"B","x":-2.75,"y":-2.75},{"s":"B","x":-2.5,"y":-2.9},{"s":"B","x":-2.25,"y":-1.65},{"s":"B","x":-2.0,"y":-1.5},{"s":"B","x":-1.75,"y":-2.45},{"s":"B","x":-1.5,"y":-1.3},{"s":"B","x":-1.25,"y":-1.55},{"s":"B","x":-1.0,"y":-0.2},{"s":"B","x":-0.75,"y":-1.65},{"s":"B","x":-0.5,"y":-0.4},{"s":"B","x":-0.25,"y":0.35},{"s":"B","x":0.0,"y":-0.5},{"s":"B","x":0.25,"y":0.55},{"s":"B","x":0.5,"y":0.4},{"s":"B","x":0.75,"y":1.65},{"s":"B","x":1.0,"y":0.4},{"s":"B","x":1.25,"y":1.65},{"s":"B","x":1.5,"y":0.7},{"s":"B","x":1.75,"y":2.45},{"s":"B","x":2.0,"y":1.8},{"s":"B","x":2.25,"y":2.25},{"s":"B","x":2.5,"y":2.1},{"s":"B","x":2.75,"y":3.35},{"s":"B","x":3.0,"y":3.5},{"s":"B","x":3.25,"y":2.55},{"s":"B","x":3.5,"y":3.7},{"s":"B","x":3.75,"y":3.45},{"s":"B","x":4.0,"y":4.8},{"s":"B","x":4.3,"y":3.4},{"s":"B","x":4.6,"y":4.7},{"s":"B","x":4.9,"y":5.5},{"s":"B","x":5.2,"y":4.95},{"s":"B","x":5.5,"y":5.65},{"s":"B","x":5.8,"y":5.75},{"s":"B","x":6.1,"y":6.55},{"s":"B","x":6.4,"y":6.1},{"s":"B","x":6.7,"y":6.9},{"s":"B","x":7.0,"y":6.6},{"s":"B","x":7.3,"y":7.65},{"s":"B","x":-6.9,"y":-7.0},{"s":"B","x":-5.9,"y":-5.9},{"s":"B","x":5.0,"y":4.8},{"s":"B","x":6.0,"y":6.3},
{"s":"B","x":-7.68,"y":-7.88},{"s":"B","x":-7.28,"y":-6.98},{"s":"B","x":-6.88,"y":-7.28},{"s":"B","x":-6.58,"y":-6.43},{"s":"B","x":-6.28,"y":-6.33},{"s":"B","x":-5.98,"y":-5.63},{"s":"B","x":-5.68,"y":-5.98},{"s":"B","x":-5.38,"y":-5.28},{"s":"B","x":-5.08,"y":-4.63},{"s":"B","x":-4.78,"y":-5.08},{"s":"B","x":-4.48,"y":-3.98},{"s":"B","x":-4.18,"y":-5.08},{"s":"B","x":-3.88,"y":-3.78},{"s":"B","x":-3.63,"y":-4.13},{"s":"B","x":-3.38,"y":-2.58},{"s":"B","x":-3.13,"y":-3.33},{"s":"B","x":-2.88,"y":-2.48},{"s":"B","x":-2.63,"y":-3.33},{"s":"B","x":-2.38,"y":-2.38},{"s":"B","x":-2.13,"y":-1.83},{"s":"B","x":-1.88,"y":-2.28},{"s":"B","x":-1.63,"y":-1.03},{"s":"B","x":-1.38,"y":-2.18},{"s":"B","x":-1.13,"y":-0.83},{"s":"B","x":-0.88,"y":-0.98},{"s":"B","x":-0.63,"y":0.07},{"s":"B","x":-0.38,"y":-0.98},{"s":"B","x":-0.13,"y":0.07},{"s":"B","x":0.12,"y":1.02},{"s":"B","x":0.37,"y":0.07},{"s":"B","x":0.62,"y":1.12},{"s":"B","x":0.87,"y":-0.03},{"s":"B","x":1.12,"y":1.22},{"s":"B","x":1.37,"y":0.87},{"s":"B","x":1.62,"y":2.42},{"s":"B","x":1.87,"y":1.67},{"s":"B","x":2.12,"y":2.52},{"s":"B","x":2.37,"y":1.67},{"s":"B","x":2.62,"y":2.62},{"s":"B","x":2.87,"y":3.17},{"s":"B","x":3.12,"y":2.72},{"s":"B","x":3.37,"y":3.97},{"s":"B","x":3.62,"y":2.82},{"s":"B","x":3.87,"y":4.17},{"s":"B","x":4.12,"y":4.02},{"s":"B","x":4.42,"y":5.12},{"s":"B","x":4.72,"y":4.12},{"s":"B","x":5.02,"y":5.22},{"s":"B","x":5.32,"y":5.77},{"s":"B","x":5.62,"y":5.47},{"s":"B","x":5.92,"y":6.17},{"s":"B","x":6.22,"y":5.77},{"s":"B","x":6.52,"y":6.57},{"s":"B","x":6.82,"y":6.57},{"s":"B","x":7.12,"y":7.52},{"s":"B","x":7.42,"y":7.32},{"s":"B","x":-6.78,"y":-6.58},{"s":"B","x":-5.78,"y":-6.13},{"s":"B","x":5.12,"y":5.12},{"s":"B","x":6.12,"y":6.27},
{"s":"B","x":-7.74,"y":-7.64},{"s":"B","x":-7.34,"y":-7.54},{"s":"B","x":-6.94,"y":-6.59},{"s":"B","x":-6.64,"y":-7.09},{"s":"B","x":-6.34,"y":-6.34},{"s":"B","x":-6.04,"y":-5.79},{"s":"B","x":-5.74,"y":-6.04},{"s":"B","x":-5.44,"y":-5.29},{"s":"B","x":-5.14,"y":-5.24},{"s":"B","x":-4.84,"y":-4.39},{"s":"B","x":-4.54,"y":-4.44},{"s":"B","x":-4.24,"y":-4.44},{"s":"B","x":-3.94,"y":-3.59},{"s":"B","x":-3.69,"y":-4.14},{"s":"B","x":-3.44,"y":-3.44},{"s":"B","x":-3.19,"y":-2.94},{"s":"B","x":-2.94,"y":-3.24},{"s":"B","x":-2.69,"y":-2.54},{"s":"B","x":-2.44,"y":-2.54},{"s":"B","x":-2.19,"y":-1.74},{"s":"B","x":-1.94,"y":-1.84},{"s":"B","x":-1.69,"y":-1.89},{"s":"B","x":-1.44,"y":-1.09},{"s":"B","x":-1.19,"y":-1.64},{"s":"B","x":-0.94,"y":-0.94},{"s":"B","x":-0.69,"y":-0.44},{"s":"B","x":-0.44,"y":-0.74},{"s":"B","x":-0.19,"y":-0.04},{"s":"B","x":0.06,"y":-0.04},{"s":"B","x":0.31,"y":0.76},{"s":"B","x":0.56,"y":0.66},{"s":"B","x":0.81,"y":0.61},{"s":"B","x":1.06,"y":1.41},{"s":"B","x":1.31,"y":0.86},{"s":"B","x":1.56,"y":1.56},{"s":"B","x":1.81,"y":2.06},{"s":"B","x":2.06,"y":1.76},{"s":"B","x":2.31,"y":2.46},{"s":"B","x":2.56,"y":2.46},{"s":"B","x":2.81,"y":3.26},{"s":"B","x":3.06,"y":3.16},{"s":"B","x":3.31,"y":3.11},{"s":"B","x":3.56,"y":3.91},{"s":"B","x":3.81,"y":3.36},{"s":"B","x":4.06,"y":4.06},{"s":"B","x":4.36,"y":4.61},{"s":"B","x":4.66,"y":4.36},{"s":"B","x":4.96,"y":5.11},{"s":"B","x":5.26,"y":5.16},{"s":"B","x":5.56,"y":6.01},
{"s":"B","x":-7.92,"y":-8.22},{"s":"B","x":-7.52,"y":-7.32},{"s":"B","x":-7.12,"y":-6.72},{"s":"B","x":-6.82,"y":-6.92},{"s":"B","x":-6.52,"y":-6.97},{"s":"B","x":-6.22,"y":-5.97},{"s":"B","x":-5.92,"y":-5.87},{"s":"B","x":-5.62,"y":-5.82},{"s":"B","x":-5.32,"y":-4.97},{"s":"B","x":-5.02,"y":-5.37},{"s":"B","x":-4.72,"y":-4.42},{"s":"B","x":-4.42,"y":-3.52},{"s":"B","x":-4.12,"y":-4.42},{"s":"B","x":-3.87,"y":-3.87},{"s":"B","x":-3.62,"y":-3.02},{"s":"B","x":-3.37,"y":-3.87},{"s":"B","x":-3.12,"y":-2.92},{"s":"B","x":-2.87,"y":-3.67},{"s":"B","x":-2.62,"y":-2.12},{"s":"B","x":-2.37,"y":-2.47},{"s":"B","x":-2.12,"y":-2.72},{"s":"B","x":-1.87,"y":-1.47},{"s":"B","x":-1.62,"y":-0.82},{"s":"B","x":-1.37,"y":-1.57},{"s":"B","x":-1.12,"y":-2.02},{"s":"B","x":-0.87,"y":-0.37},{"s":"B","x":-0.62,"y":-0.52},{"s":"B","x":-0.37,"y":-0.77},{"s":"B","x":-0.12,"y":0.58},{"s":"B","x":0.13,"y":-0.57},{"s":"B","x":0.38,"y":0.68},{"s":"B","x":0.63,"y":1.53},{"s":"B","x":0.88,"y":0.58},{"s":"B","x":1.13,"y":1.13},{"s":"B","x":1.38,"y":1.98},{"s":"B","x":1.63,"y":1.13},{"s":"B","x":1.88,"y":2.08},{"s":"B","x":2.13,"y":1.33},{"s":"B","x":2.38,"y":2.88},{"s":"B","x":2.63,"y":2.53},{"s":"B","x":2.88,"y":2.28},{"s":"B","x":3.13,"y":3.53},{"s":"B","x":3.38,"y":4.18},{"s":"B","x":3.63,"y":3.43},{"s":"B","x":3.88,"y":2.98},{"s":"B","x":4.18,"y":4.68},{"s":"B","x":4.48,"y":4.58},{"s":"B","x":4.78,"y":4.38},{"s":"B","x":5.08,"y":5.43},{"s":"B","x":5.38,"y":5.03},{"s":"B","x":5.68,"y":5.83},{"s":"B","x":5.98,"y":6.43},{"s":"B","x":6.28,"y":6.13},{"s":"B","x":6.58,"y":6.58},{"s":"B","x":6.88,"y":7.18},{"s":"B","x":7.18,"y":6.93},
{"s":"B","x":-5.92,"y":-5.67},{"s":"B","x":-5.62,"y":-5.97},{"s":"B","x":-5.32,"y":-5.27},{"s":"B","x":-5.02,"y":-4.62},{"s":"B","x":-4.72,"y":-4.87},{"s":"B","x":-4.42,"y":-4.92},{"s":"B","x":-4.12,"y":-3.82},{"s":"B","x":-3.82,"y":-3.87},{"s":"B","x":-3.57,"y":-3.02},{"s":"B","x":-3.32,"y":-3.57},{"s":"B","x":-3.07,"y":-2.82},{"s":"B","x":-2.82,"y":-3.17},{"s":"B","x":-2.57,"y":-2.52},{"s":"B","x":-2.32,"y":-1.92},{"s":"B","x":-2.07,"y":-2.22},{"s":"B","x":-1.82,"y":-2.32},{"s":"B","x":-1.57,"y":-1.27},{"s":"B","x":-1.32,"y":-1.37},{"s":"B","x":-1.07,"y":-0.52},{"s":"B","x":-0.82,"y":-1.07},{"s":"B","x":-0.57,"y":-0.32},{"s":"B","x":-0.32,"y":-0.67},{"s":"B","x":-0.07,"y":-0.02},{"s":"B","x":0.18,"y":0.58},{"s":"B","x":0.43,"y":0.28},{"s":"B","x":0.68,"y":0.18},{"s":"B","x":0.93,"y":1.23},{"s":"B","x":1.18,"y":1.13},{"s":"B","x":1.43,"y":1.98},{"s":"B","x":1.68,"y":1.43},{"s":"B","x":1.93,"y":2.18},{"s":"B","x":2.18,"y":1.83},{"s":"B","x":2.43,"y":2.48},{"s":"B","x":2.68,"y":3.08},{"s":"B","x":2.93,"y":2.78},{"s":"B","x":3.18,"y":2.68},{"s":"B","x":3.43,"y":3.73},{"s":"B","x":3.68,"y":3.63},{"s":"B","x":3.93,"y":4.48},{"s":"B","x":4.18,"y":3.93},{"s":"B","x":4.48,"y":4.73},{"s":"B","x":4.78,"y":4.43},{"s":"B","x":5.08,"y":5.13},{"s":"B","x":5.38,"y":5.78},{"s":"B","x":5.68,"y":5.53},
{"s":"B","x":-7.1,"y":-7.6},{"s":"B","x":-7.5,"y":-7.8},{"s":"B","x":6.96,"y":6.97},{"s":"B","x":5.3,"y":4.6},{"s":"B","x":7.4,"y":6.9},
{"s":"D","x":-10.44,"y":-2.7},{"s":"D","x":-10.0,"y":-2.4},{"s":"D","x":-9.9,"y":-2.45},{"s":"D","x":-9.05,"y":-1.72},{"s":"D","x":-8.8,"y":-1.54},{"s":"D","x":-7.12,"y":-1.03},{"s":"D","x":-6.75,"y":-1.1},{"s":"D","x":-6.93,"y":-0.98},{"s":"D","x":-5.69,"y":-0.21},{"s":"D","x":-5.65,"y":-0.53},{"s":"D","x":-5.22,"y":0.09},{"s":"D","x":-4.57,"y":-1.33},{"s":"D","x":-4.0,"y":-1.0},{"s":"D","x":-3.45,"y":-0.9},{"s":"D","x":-3.2,"y":-0.6},{"s":"D","x":-0.05,"y":2.5},{"s":"D","x":-0.07,"y":2.35},{"s":"D","x":-0.8,"y":1.82},{"s":"D","x":-0.2,"y":-2.98},{"s":"D","x":0.1,"y":-2.68},{"s":"D","x":0.15,"y":-2.4},{"s":"D","x":5.03,"y":1.48},{"s":"D","x":5.25,"y":0.2},{"s":"D","x":5.95,"y":0.57},{"s":"D","x":6.13,"y":0.8},{"s":"D","x":6.51,"y":0.41},{"s":"D","x":6.63,"y":1.03},{"s":"D","x":7.01,"y":0.91},{"s":"D","x":9.0,"y":1.94},{"s":"D","x":9.22,"y":2.56},{"s":"D","x":9.56,"y":2.44},{"s":"D","x":10.13,"y":2.17},{"s":"D","x":3.1,"y":1.9},{"s":"D","x":3.8,"y":1.6},{"s":"D","x":-1.0,"y":-0.3},{"s":"D","x":-0.5,"y":0.9},{"s":"D","x":0.8,"y":1.5},{"s":"D","x":-2.0,"y":-1.3},{"s":"D","x":1.9,"y":2.6},{"s":"D","x":3.0,"y":2.2},{"s":"D","x":-3.5,"y":-2.8},{"s":"D","x":-0.1,"y":-0.8},{"s":"D","x":0.3,"y":-1.6},{"s":"D","x":-1.1,"y":-2.3},{"s":"D","x":3.2,"y":3.9},{"s":"D","x":-1.5,"y":-0.2},
{"s":"L","x":5.8,"y":6.4},{"s":"L","x":-5.3,"y":-5.6},{"s":"L","x":-4.0,"y":-4.4}
],
"bl": [
{"s":"M","x":-2.55,"y":-2.72},{"s":"M","x":-2.75,"y":-2.85},{"s":"M","x":-2.8,"y":-2.82},{"s":"M","x":-3.0,"y":-2.98},{"s":"M","x":-3.2,"y":-3.15},{"s":"M","x":-3.3,"y":-3.35},{"s":"M","x":-3.4,"y":-3.42},{"s":"M","x":-3.5,"y":-3.55},{"s":"M","x":-3.55,"y":-3.45},{"s":"M","x":-3.6,"y":-3.65},{"s":"M","x":-3.65,"y":-3.6},{"s":"M","x":-3.7,"y":-3.72},{"s":"M","x":-3.75,"y":-3.8},{"s":"M","x":-3.8,"y":-3.75},{"s":"M","x":-3.85,"y":-3.9},{"s":"M","x":-3.9,"y":-3.85},{"s":"M","x":-3.95,"y":-4.0},{"s":"M","x":-4.0,"y":-3.95},{"s":"M","x":-4.05,"y":-4.05},{"s":"M","x":-4.1,"y":-4.15},{"s":"M","x":-4.12,"y":-4.02},{"s":"M","x":-4.15,"y":-4.2},{"s":"M","x":-4.2,"y":-4.12},{"s":"M","x":-4.25,"y":-4.3},{"s":"M","x":-4.3,"y":-4.2},{"s":"M","x":-4.35,"y":-4.38},{"s":"M","x":-4.4,"y":-4.3},{"s":"M","x":-4.45,"y":-4.5},{"s":"M","x":-4.5,"y":-4.42},{"s":"M","x":-4.55,"y":-4.6},{"s":"M","x":-4.6,"y":-4.52},{"s":"M","x":-4.65,"y":-4.7},{"s":"M","x":-4.7,"y":-4.65},{"s":"M","x":-4.75,"y":-4.82},{"s":"M","x":-4.8,"y":-4.72},{"s":"M","x":-4.85,"y":-4.9},{"s":"M","x":-4.9,"y":-4.8},{"s":"M","x":-4.95,"y":-5.0},{"s":"M","x":-5.0,"y":-4.92},{"s":"M","x":-5.05,"y":-5.1},{"s":"M","x":-5.1,"y":-5.0},{"s":"M","x":-4.71,"y":-5.18},{"s":"M","x":-3.9,"y":-4.15},{"s":"M","x":-4.3,"y":-4.5},{"s":"M","x":-5.2,"y":-5.35},{"s":"M","x":-5.25,"y":-5.28},{"s":"M","x":-4.45,"y":-4.25},{"s":"M","x":-3.65,"y":-3.88},{"s":"M","x":-2.9,"y":-3.1},{"s":"M","x":-2.62,"y":-2.66},{"s":"M","x":-3.45,"y":-3.7},{"s":"M","x":-4.0,"y":-4.2},
{"s":"M","x":-3.2,"y":-3.3},{"s":"M","x":-3.35,"y":-3.2},{"s":"M","x":-3.62,"y":-3.78},{"s":"M","x":-3.78,"y":-3.62},{"s":"M","x":-3.95,"y":-3.82},{"s":"M","x":-4.02,"y":-4.12},{"s":"M","x":-4.18,"y":-4.32},{"s":"M","x":-4.28,"y":-4.1},{"s":"M","x":-4.38,"y":-4.52},{"s":"M","x":-4.42,"y":-4.2},{"s":"M","x":-4.52,"y":-4.68},{"s":"M","x":-4.6,"y":-4.4},{"s":"M","x":-3.1,"y":-3.05},{"s":"M","x":-2.7,"y":-2.7},{"s":"M","x":-3.48,"y":-3.35},
{"s":"R","x":-4.55,"y":-4.45},{"s":"R","x":-4.58,"y":-4.62},{"s":"R","x":-4.6,"y":-4.5},{"s":"R","x":-4.65,"y":-4.6},{"s":"R","x":-4.68,"y":-4.72},{"s":"R","x":-4.7,"y":-4.55},{"s":"R","x":-4.72,"y":-4.66},{"s":"R","x":-4.75,"y":-4.78},{"s":"R","x":-4.78,"y":-4.65},{"s":"R","x":-4.8,"y":-4.85},{"s":"R","x":-4.82,"y":-4.72},{"s":"R","x":-4.85,"y":-4.8},{"s":"R","x":-4.88,"y":-4.92},{"s":"R","x":-4.9,"y":-4.78},{"s":"R","x":-4.92,"y":-4.88},{"s":"R","x":-4.95,"y":-5.0},{"s":"R","x":-4.98,"y":-4.86},{"s":"R","x":-5.0,"y":-4.95},{"s":"R","x":-5.02,"y":-5.06},{"s":"R","x":-5.05,"y":-4.95},{"s":"R","x":-5.08,"y":-5.12},{"s":"R","x":-5.1,"y":-5.02},{"s":"R","x":-5.12,"y":-5.15},{"s":"R","x":-5.15,"y":-5.05},{"s":"R","x":-5.18,"y":-5.22},{"s":"R","x":-5.2,"y":-5.1},{"s":"R","x":-5.22,"y":-5.25},{"s":"R","x":-5.25,"y":-5.18},{"s":"R","x":-5.28,"y":-5.3},{"s":"R","x":-5.3,"y":-5.22},{"s":"R","x":-5.33,"y":-5.35},{"s":"R","x":-5.35,"y":-5.28},{"s":"R","x":-4.62,"y":-4.4},{"s":"R","x":-4.5,"y":-4.35},{"s":"R","x":-4.75,"y":-4.55},{"s":"R","x":-4.85,"y":-4.65},{"s":"R","x":-4.95,"y":-4.78},{"s":"R","x":-5.05,"y":-5.2},{"s":"R","x":-4.7,"y":-4.85},{"s":"R","x":-4.55,"y":-4.7},{"s":"R","x":-4.8,"y":-4.95},{"s":"R","x":-5.15,"y":-5.3},{"s":"R","x":-4.65,"y":-4.48},{"s":"R","x":-4.9,"y":-5.05},{"s":"R","x":-4.45,"y":-4.4},{"s":"R","x":-4.4,"y":-4.58},{"s":"R","x":-5.0,"y":-4.82},{"s":"R","x":-4.72,"y":-4.45},{"s":"R","x":-4.58,"y":-4.3},{"s":"R","x":-4.52,"y":-4.38},
{"s":"R","x":-5.25,"y":-5.12},{"s":"R","x":-5.1,"y":-5.26},{"s":"R","x":-4.98,"y":-5.1},{"s":"R","x":-4.88,"y":-4.7},{"s":"R","x":-4.76,"y":-4.9},{"s":"R","x":-4.64,"y":-4.76},{"s":"R","x":-4.56,"y":-4.54},{"s":"R","x":-4.84,"y":-5.0},{"s":"R","x":-5.16,"y":-5.0},{"s":"R","x":-5.32,"y":-5.42},{"s":"R","x":-5.38,"y":-5.3},{"s":"R","x":-4.7,"y":-4.42},{"s":"R","x":-4.48,"y":-4.5},{"s":"R","x":-5.06,"y":-4.88},{"s":"R","x":-4.92,"y":-4.7},{"s":"R","x":-4.78,"y":-4.82},
{"s":"C","x":-5.42,"y":-5.4},{"s":"C","x":-5.38,"y":-5.35},{"s":"C","x":-5.35,"y":-5.4},{"s":"C","x":-5.32,"y":-5.3},{"s":"C","x":-5.3,"y":-5.36},{"s":"C","x":-5.28,"y":-5.26},{"s":"C","x":-5.25,"y":-5.32},{"s":"C","x":-5.22,"y":-5.22},{"s":"C","x":-5.2,"y":-5.28},{"s":"C","x":-5.18,"y":-5.18},{"s":"C","x":-5.15,"y":-5.25},{"s":"C","x":-5.12,"y":-5.12},{"s":"C","x":-5.1,"y":-5.2},{"s":"C","x":-5.05,"y":-5.05},{"s":"C","x":-5.0,"y":-5.0},{"s":"C","x":-4.95,"y":-4.92},{"s":"C","x":-4.85,"y":-4.85},{"s":"C","x":-4.6,"y":-4.62},{"s":"C","x":-4.52,"y":-4.58},{"s":"C","x":-5.4,"y":-5.3},{"s":"C","x":-5.35,"y":-5.25},{"s":"C","x":-5.26,"y":-5.38},{"s":"C","x":-5.3,"y":-5.2},{"s":"C","x":-4.7,"y":-4.7},{"s":"C","x":-5.2,"y":-5.12},
{"s":"C","x":-5.37,"y":-5.44},{"s":"C","x":-5.33,"y":-5.33},{"s":"C","x":-5.27,"y":-5.29},{"s":"C","x":-5.23,"y":-5.35},{"s":"C","x":-5.17,"y":-5.22},{"s":"C","x":-5.13,"y":-5.08},{"s":"C","x":-5.07,"y":-5.15},{"s":"C","x":-5.24,"y":-5.16},{"s":"C","x":-5.41,"y":-5.36},{"s":"C","x":-5.16,"y":-5.3},{"s":"C","x":-4.9,"y":-4.98},{"s":"C","x":-5.05,"y":-5.12},
{"s":"I","x":0.59,"y":0.62},{"s":"I","x":0.4,"y":0.42},{"s":"I","x":-1.19,"y":-1.11},{"s":"I","x":-1.41,"y":-1.35},{"s":"I","x":-1.41,"y":-1.48},{"s":"I","x":-1.42,"y":-1.55},{"s":"I","x":-2.06,"y":-2.11},{"s":"I","x":-2.05,"y":-2.16},{"s":"I","x":-2.07,"y":-2.2},{"s":"I","x":-2.09,"y":-2.1},{"s":"I","x":-2.33,"y":-2.25},{"s":"I","x":-2.4,"y":-2.4},{"s":"I","x":-2.45,"y":-2.38},{"s":"I","x":-2.52,"y":-2.48},{"s":"I","x":-2.6,"y":-2.55},{"s":"I","x":-2.63,"y":-2.43},{"s":"I","x":-2.7,"y":-2.78},{"s":"I","x":-2.75,"y":-2.6},{"s":"I","x":-2.8,"y":-2.7},{"s":"I","x":-2.88,"y":-2.95},{"s":"I","x":-2.9,"y":-2.75},{"s":"I","x":-2.95,"y":-2.85},{"s":"I","x":-2.98,"y":-3.05},{"s":"I","x":-3.05,"y":-2.95},{"s":"I","x":-3.1,"y":-3.1},{"s":"I","x":-3.12,"y":-2.98},{"s":"I","x":-3.18,"y":-3.2},{"s":"I","x":-3.2,"y":-3.32},{"s":"I","x":-3.25,"y":-3.05},{"s":"I","x":-3.3,"y":-3.4},{"s":"I","x":-3.35,"y":-3.25},{"s":"I","x":-3.4,"y":-3.38},{"s":"I","x":-3.45,"y":-3.5},{"s":"I","x":-3.5,"y":-3.28},{"s":"I","x":-3.55,"y":-3.62},{"s":"I","x":-3.6,"y":-3.45},{"s":"I","x":-3.65,"y":-3.55},{"s":"I","x":-3.7,"y":-3.68},{"s":"I","x":-3.75,"y":-3.45},{"s":"I","x":-3.8,"y":-3.85},{"s":"I","x":-3.85,"y":-3.7},{"s":"I","x":-3.9,"y":-3.78},{"s":"I","x":-3.95,"y":-3.97},{"s":"I","x":-4.0,"y":-3.85},{"s":"I","x":-4.05,"y":-4.1},{"s":"I","x":-4.1,"y":-3.95},{"s":"I","x":-4.15,"y":-4.05},{"s":"I","x":-4.2,"y":-4.2},{"s":"I","x":-4.25,"y":-4.12},{"s":"I","x":-4.3,"y":-4.3},{"s":"I","x":-3.15,"y":-3.45},{"s":"I","x":-2.85,"y":-2.55},{"s":"I","x":-3.55,"y":-3.2},{"s":"I","x":-2.5,"y":-2.3},{"s":"I","x":-3.8,"y":-3.55},{"s":"I","x":-3.0,"y":-3.3},{"s":"I","x":-4.23,"y":-3.85},{"s":"I","x":-3.69,"y":-4.18},{"s":"I","x":-3.66,"y":-3.31},{"s":"I","x":-3.03,"y":-3.32},
{"s":"I","x":-2.3,"y":-2.38},{"s":"I","x":-2.55,"y":-2.62},{"s":"I","x":-2.68,"y":-2.55},{"s":"I","x":-2.82,"y":-2.88},{"s":"I","x":-2.92,"y":-3.0},{"s":"I","x":-3.08,"y":-3.18},{"s":"I","x":-3.22,"y":-3.12},{"s":"I","x":-3.38,"y":-3.48},{"s":"I","x":-3.48,"y":-3.4},{"s":"I","x":-3.62,"y":-3.72},{"s":"I","x":-3.72,"y":-3.6},{"s":"I","x":-3.88,"y":-3.95},{"s":"I","x":-4.02,"y":-3.92},{"s":"I","x":-4.12,"y":-4.22},{"s":"I","x":-2.98,"y":-2.8}
],
"br": [
{"s":"B","x":-5.44,"y":-5.43},{"s":"B","x":-5.43,"y":-5.445},{"s":"B","x":-5.42,"y":-5.4},{"s":"B","x":-5.41,"y":-5.415},{"s":"B","x":-5.4,"y":-5.375},{"s":"B","x":-5.39,"y":-5.41},{"s":"B","x":-5.38,"y":-5.375},{"s":"B","x":-5.37,"y":-5.355},{"s":"B","x":-5.36,"y":-5.37},{"s":"B","x":-5.35,"y":-5.35},{"s":"B","x":-5.34,"y":-5.365},{"s":"B","x":-5.33,"y":-5.318},{"s":"B","x":-5.32,"y":-5.302},{"s":"B","x":-5.31,"y":-5.322},{"s":"B","x":-5.3,"y":-5.292},{"s":"B","x":-5.29,"y":-5.308},{"s":"B","x":-5.28,"y":-5.27},{"s":"B","x":-5.27,"y":-5.285},{"s":"B","x":-5.26,"y":-5.24},{"s":"B","x":-5.25,"y":-5.255},{"s":"B","x":-5.24,"y":-5.215},{"s":"B","x":-5.23,"y":-5.25},{"s":"B","x":-5.22,"y":-5.215},{"s":"B","x":-5.21,"y":-5.195},{"s":"B","x":-5.2,"y":-5.21},{"s":"B","x":-5.19,"y":-5.19},{"s":"B","x":-5.18,"y":-5.205},{"s":"B","x":-5.17,"y":-5.158},{"s":"B","x":-5.16,"y":-5.142},{"s":"B","x":-5.15,"y":-5.162},{"s":"B","x":-5.14,"y":-5.132},{"s":"B","x":-5.13,"y":-5.148},{"s":"B","x":-5.12,"y":-5.11},{"s":"B","x":-5.11,"y":-5.125},{"s":"B","x":-5.1,"y":-5.08},{"s":"B","x":-5.09,"y":-5.095},{"s":"B","x":-5.08,"y":-5.055},{"s":"B","x":-5.06,"y":-5.08},{"s":"B","x":-5.04,"y":-5.035},{"s":"B","x":-5.02,"y":-5.005},{"s":"B","x":-5.0,"y":-5.01},{"s":"B","x":-4.98,"y":-4.98},{"s":"B","x":-4.96,"y":-4.985},{"s":"B","x":-4.94,"y":-4.928},{"s":"B","x":-4.92,"y":-4.902},{"s":"B","x":-4.9,"y":-4.912},{"s":"B","x":-4.88,"y":-4.872},{"s":"B","x":-4.86,"y":-4.878},{"s":"B","x":-4.84,"y":-4.83},{"s":"B","x":-4.82,"y":-4.835},{"s":"B","x":-4.8,"y":-4.78},{"s":"B","x":-4.78,"y":-4.785},
{"s":"B","x":-5.435,"y":-5.455},{"s":"B","x":-5.425,"y":-5.415},{"s":"B","x":-5.415,"y":-5.42},{"s":"B","x":-5.405,"y":-5.385},{"s":"B","x":-5.395,"y":-5.407},{"s":"B","x":-5.385,"y":-5.37},{"s":"B","x":-5.375,"y":-5.4},{"s":"B","x":-5.365,"y":-5.36},{"s":"B","x":-5.355,"y":-5.333},{"s":"B","x":-5.345,"y":-5.353},{"s":"B","x":-5.335,"y":-5.335},{"s":"B","x":-5.325,"y":-5.313},{"s":"B","x":-5.315,"y":-5.333},{"s":"B","x":-5.305,"y":-5.297},{"s":"B","x":-5.295,"y":-5.31},{"s":"B","x":-5.285,"y":-5.26},{"s":"B","x":-5.275,"y":-5.295},{"s":"B","x":-5.265,"y":-5.255},{"s":"B","x":-5.255,"y":-5.26},{"s":"B","x":-5.245,"y":-5.225},{"s":"B","x":-5.235,"y":-5.247},{"s":"B","x":-5.225,"y":-5.21},{"s":"B","x":-5.215,"y":-5.24},{"s":"B","x":-5.205,"y":-5.2},{"s":"B","x":-5.195,"y":-5.173},{"s":"B","x":-5.185,"y":-5.193},{"s":"B","x":-5.175,"y":-5.175},{"s":"B","x":-5.165,"y":-5.153},{"s":"B","x":-5.155,"y":-5.173},{"s":"B","x":-5.145,"y":-5.137},{"s":"B","x":-5.135,"y":-5.15},{"s":"B","x":-5.125,"y":-5.1},{"s":"B","x":-5.115,"y":-5.135},{"s":"B","x":-5.105,"y":-5.095},{"s":"B","x":-5.095,"y":-5.1},{"s":"B","x":-5.085,"y":-5.065},{"s":"B","x":-5.075,"y":-5.087},{"s":"B","x":-5.055,"y":-5.04},{"s":"B","x":-5.035,"y":-5.06},{"s":"B","x":-5.015,"y":-5.01},{"s":"B","x":-4.995,"y":-4.973},{"s":"B","x":-4.975,"y":-4.983},{"s":"B","x":-4.955,"y":-4.955},{"s":"B","x":-4.935,"y":-4.923},{"s":"B","x":-4.915,"y":-4.933},{"s":"B","x":-4.895,"y":-4.887},{"s":"B","x":-4.875,"y":-4.89},{"s":"B","x":-4.855,"y":-4.83},{"s":"B","x":-4.835,"y":-4.855},{"s":"B","x":-4.815,"y":-4.805},{"s":"B","x":-4.795,"y":-4.8},{"s":"B","x":-4.775,"y":-4.755},
{"s":"B","x":-5.445,"y":-5.415},{"s":"B","x":-5.43,"y":-5.455},{"s":"B","x":-5.415,"y":-5.4},{"s":"B","x":-5.4,"y":-5.435},{"s":"B","x":-5.385,"y":-5.365},{"s":"B","x":-5.37,"y":-5.38},{"s":"B","x":-5.355,"y":-5.32},{"s":"B","x":-5.34,"y":-5.37},{"s":"B","x":-5.325,"y":-5.32},{"s":"B","x":-5.31,"y":-5.285},{"s":"B","x":-5.295,"y":-5.315},{"s":"B","x":-5.28,"y":-5.27},{"s":"B","x":-5.265,"y":-5.235},{"s":"B","x":-5.25,"y":-5.275},{"s":"B","x":-5.235,"y":-5.22},{"s":"B","x":-5.22,"y":-5.255},{"s":"B","x":-5.205,"y":-5.185},{"s":"B","x":-5.19,"y":-5.2},{"s":"B","x":-5.175,"y":-5.14},{"s":"B","x":-5.16,"y":-5.19},{"s":"B","x":-5.145,"y":-5.14},{"s":"B","x":-5.13,"y":-5.105},{"s":"B","x":-5.115,"y":-5.135},{"s":"B","x":-5.1,"y":-5.09},{"s":"B","x":-5.085,"y":-5.055},{"s":"B","x":-5.07,"y":-5.095},{"s":"B","x":-5.055,"y":-5.04},{"s":"B","x":-5.04,"y":-5.075},{"s":"B","x":-5.025,"y":-5.005},{"s":"B","x":-5.01,"y":-5.02},{"s":"B","x":-4.99,"y":-4.955},{"s":"B","x":-4.97,"y":-5.0},{"s":"B","x":-4.95,"y":-4.945},{"s":"B","x":-4.93,"y":-4.905},{"s":"B","x":-4.91,"y":-4.93},{"s":"B","x":-4.89,"y":-4.88},
{"s":"B","x":-5.438,"y":-5.453},{"s":"B","x":-5.423,"y":-5.398},{"s":"B","x":-5.408,"y":-5.438},{"s":"B","x":-5.393,"y":-5.383},{"s":"B","x":-5.378,"y":-5.343},{"s":"B","x":-5.363,"y":-5.383},{"s":"B","x":-5.348,"y":-5.348},{"s":"B","x":-5.333,"y":-5.313},{"s":"B","x":-5.318,"y":-5.353},{"s":"B","x":-5.303,"y":-5.288},{"s":"B","x":-5.288,"y":-5.293},{"s":"B","x":-5.273,"y":-5.243},{"s":"B","x":-5.258,"y":-5.273},{"s":"B","x":-5.243,"y":-5.218},{"s":"B","x":-5.228,"y":-5.258},{"s":"B","x":-5.213,"y":-5.203},{"s":"B","x":-5.198,"y":-5.163},{"s":"B","x":-5.183,"y":-5.203},{"s":"B","x":-5.168,"y":-5.168},{"s":"B","x":-5.153,"y":-5.133},{"s":"B","x":-5.138,"y":-5.173},{"s":"B","x":-5.123,"y":-5.108},{"s":"B","x":-5.108,"y":-5.113},{"s":"B","x":-5.093,"y":-5.063},{"s":"B","x":-5.078,"y":-5.093},{"s":"B","x":-5.063,"y":-5.038},{"s":"B","x":-5.048,"y":-5.078},{"s":"B","x":-5.033,"y":-5.023},{"s":"B","x":-5.018,"y":-4.983},{"s":"B","x":-5.003,"y":-5.023},{"s":"B","x":-4.983,"y":-4.983},{"s":"B","x":-4.963,"y":-4.943},{"s":"B","x":-4.943,"y":-4.978},{"s":"B","x":-4.923,"y":-4.908},{"s":"B","x":-4.903,"y":-4.908},{"s":"B","x":-4.883,"y":-4.853},
{"s":"B","x":-4.587,"y":-4.557},{"s":"B","x":-4.59,"y":-4.6},{"s":"B","x":-4.611,"y":-4.632},{"s":"B","x":-4.62,"y":-4.64},{"s":"B","x":-4.65,"y":-4.64},{"s":"B","x":-4.696,"y":-4.707},{"s":"B","x":-4.717,"y":-4.74},{"s":"B","x":-4.77,"y":-4.8},{"s":"B","x":-4.77,"y":-4.83},{"s":"B","x":-4.72,"y":-4.7},{"s":"B","x":-4.66,"y":-4.66},{"s":"B","x":-4.74,"y":-4.76},{"s":"B","x":-5.175,"y":-5.12},{"s":"B","x":-4.85,"y":-4.81},{"s":"B","x":-4.9,"y":-4.94},{"s":"B","x":-5.0,"y":-4.96},{"s":"B","x":-4.95,"y":-4.99},{"s":"B","x":-5.3,"y":-5.27},{"s":"B","x":-5.2,"y":-5.16},{"s":"B","x":-4.7,"y":-4.72},{"s":"B","x":-4.63,"y":-4.63},
{"s":"N","x":-4.8,"y":-4.8},{"s":"N","x":-4.82,"y":-4.83},{"s":"N","x":-4.84,"y":-4.85},{"s":"N","x":-4.86,"y":-4.86},{"s":"N","x":-4.88,"y":-4.88},{"s":"N","x":-4.9,"y":-4.9},{"s":"N","x":-4.92,"y":-4.92},{"s":"N","x":-4.94,"y":-4.93},{"s":"N","x":-4.83,"y":-4.81},{"s":"N","x":-4.87,"y":-4.89},{"s":"N","x":-4.91,"y":-4.89},{"s":"N","x":-5.02,"y":-5.03},{"s":"N","x":-5.05,"y":-5.05},{"s":"N","x":-5.08,"y":-5.09},{"s":"N","x":-5.12,"y":-5.12},
{"s":"D","x":-5.42,"y":-5.42},{"s":"D","x":-5.38,"y":-5.36},{"s":"D","x":-5.35,"y":-5.38},{"s":"D","x":-5.3,"y":-5.28},{"s":"D","x":-5.27,"y":-5.3},{"s":"D","x":-5.22,"y":-5.19},{"s":"D","x":-5.2,"y":-5.23},{"s":"D","x":-5.15,"y":-5.13},{"s":"D","x":-5.12,"y":-5.1},{"s":"D","x":-5.08,"y":-5.06},{"s":"D","x":-5.05,"y":-5.02},{"s":"D","x":-5.03,"y":-5.0},{"s":"D","x":-5.0,"y":-4.97},{"s":"D","x":-4.98,"y":-4.95},{"s":"D","x":-4.95,"y":-4.91},{"s":"D","x":-4.92,"y":-4.94},{"s":"D","x":-4.9,"y":-4.86},{"s":"D","x":-4.85,"y":-4.82},{"s":"D","x":-4.82,"y":-4.77},{"s":"D","x":-4.78,"y":-4.76},{"s":"D","x":-4.75,"y":-4.72},{"s":"D","x":-5.108,"y":-5.053},{"s":"D","x":-5.048,"y":-4.993},{"s":"D","x":-4.93,"y":-4.99},{"s":"D","x":-4.87,"y":-4.93},{"s":"D","x":-5.18,"y":-5.14},
{"s":"D","x":-5.4,"y":-5.37},{"s":"D","x":-5.33,"y":-5.3},{"s":"D","x":-5.25,"y":-5.21},{"s":"D","x":-5.17,"y":-5.2},{"s":"D","x":-5.1,"y":-5.07},{"s":"D","x":-5.02,"y":-5.04},{"s":"D","x":-4.96,"y":-4.93},{"s":"D","x":-5.28,"y":-5.25},{"s":"D","x":-5.13,"y":-5.16},{"s":"D","x":-4.88,"y":-4.85},
{"s":"D","x":-4.032,"y":-4.024},{"s":"D","x":-4.197,"y":-4.207},{"s":"D","x":-4.364,"y":-4.353},{"s":"D","x":-4.322,"y":-4.346},{"s":"D","x":-4.491,"y":-4.45},{"s":"D","x":-4.453,"y":-4.45},{"s":"D","x":-4.601,"y":-4.714},{"s":"D","x":-4.688,"y":-4.625},{"s":"D","x":-4.686,"y":-4.664},{"s":"D","x":-4.745,"y":-4.664},{"s":"D","x":-4.745,"y":-4.713},{"s":"D","x":-4.735,"y":-4.817},{"s":"D","x":-4.759,"y":-4.753},{"s":"D","x":-4.837,"y":-4.896},{"s":"D","x":-4.89,"y":-4.84}
]
},
"concat": [
{
"title": "GAP-RSS generated data",
"width": 354, "height": 349,
"encoding": {
"x": {"field": "x", "type": "quantitative", "scale": {"domain": [-23, 23], "nice": false, "zero": false}, "axis": {"title": "Reference forces (eV/A)", "values": [-20, -10, 0, 10, 20]}},
"y": {"field": "y", "type": "quantitative", "scale": {"domain": [-23, 23], "nice": false, "zero": false}, "axis": {"title": "Predicted forces (eV/A)", "values": [-20, -10, 0, 10, 20]}}
},
"layer": [
{"data": {"values": [{"x": -23, "y": -23, "x2": 23, "y2": 23}]}, "mark": {"type": "rule", "color": "#222222", "strokeWidth": 1}, "encoding": {"x2": {"field": "x2"}, "y2": {"field": "y2"}}},
{"data": {"name": "tl"}, "mark": {"type": "point", "filled": true, "size": 20, "opacity": 1},
 "encoding": {"color": {"field": "s", "type": "nominal", "scale": {"domain": ["R", "M", "C", "I"], "range": ["#00ff00", "#00ffff", "#007000", "#1e90ff"]}, "legend": {"title": null, "labelExpr": "datum.label=='R'?'RSS, relaxed':datum.label=='M'?'RSS, intermediates':datum.label=='C'?'RSS, 3-coordinated':'RSS, initial (random)'"}}}}
]
},
{
"title": "Manually constructed data",
"width": 354, "height": 349,
"encoding": {
"x": {"field": "x", "type": "quantitative", "scale": {"domain": [-12, 12], "nice": false, "zero": false}, "axis": {"title": "Reference forces (eV/A)", "values": [-10, -5, 0, 5, 10]}},
"y": {"field": "y", "type": "quantitative", "scale": {"domain": [-12, 12], "nice": false, "zero": false}, "axis": {"title": "Predicted forces (eV/A)", "values": [-10, -5, 0, 5, 10]}}
},
"layer": [
{"data": {"values": [{"x": -12, "y": -12, "x2": 12, "y2": 12}]}, "mark": {"type": "rule", "color": "#222222", "strokeWidth": 1}, "encoding": {"x2": {"field": "x2"}, "y2": {"field": "y2"}}},
{"data": {"name": "tr"}, "mark": {"type": "point", "filled": true, "size": 20, "opacity": 1},
 "encoding": {"color": {"field": "s", "type": "nominal", "scale": {"domain": ["D", "B", "N", "L"], "range": ["#00ff00", "#007000", "#1e90ff", "#00ffff"]}, "legend": {"title": null, "labelExpr": "datum.label=='D'?'2D structures':datum.label=='B'?'Bulk crystals':datum.label=='N'?'Network liquid':'Molecular liquid'"}}}}
]
},
{
"title": "GAP-RSS generated data",
"width": 354, "height": 349,
"encoding": {
"x": {"field": "x", "type": "quantitative", "scale": {"domain": [-6, 1], "nice": false, "zero": false}, "axis": {"title": "Reference energy (eV/atom)", "values": [-6, -4, -2, 0]}},
"y": {"field": "y", "type": "quantitative", "scale": {"domain": [-6, 1], "nice": false, "zero": false}, "axis": {"title": "Predicted energy (eV/atom)", "values": [-6, -5, -4, -3, -2, -1, 0, 1]}}
},
"layer": [
{"data": {"values": [{"x": -6, "y": -6, "x2": 1, "y2": 1}]}, "mark": {"type": "rule", "color": "#222222", "strokeWidth": 1}, "encoding": {"x2": {"field": "x2"}, "y2": {"field": "y2"}}},
{"data": {"name": "bl"}, "mark": {"type": "point", "filled": true, "size": 20, "opacity": 1},
 "encoding": {"color": {"field": "s", "type": "nominal", "scale": {"domain": ["R", "M", "C", "I"], "range": ["#00ff00", "#00ffff", "#007000", "#1e90ff"]}, "legend": {"title": null, "labelExpr": "datum.label=='R'?'RSS, relaxed':datum.label=='M'?'RSS, intermediates':datum.label=='C'?'RSS, 3-coordinated':'RSS, initial (random)'"}}}}
]
},
{
"title": "Manually constructed data",
"width": 354, "height": 349,
"encoding": {
"x": {"field": "x", "type": "quantitative", "scale": {"domain": [-5.5, -4.0], "nice": false, "zero": false}, "axis": {"title": "Reference energy (eV/atom)", "values": [-5.5, -5.25, -5.0, -4.75, -4.5, -4.25, -4.0], "format": ".2f"}},
"y": {"field": "y", "type": "quantitative", "scale": {"domain": [-5.5, -4.0], "nice": false, "zero": false}, "axis": {"title": "Predicted energy (eV/atom)", "values": [-5.4, -5.2, -5.0, -4.8, -4.6, -4.4, -4.2, -4.0], "format": ".1f"}}
},
"layer": [
{"data": {"values": [{"x": -5.5, "y": -5.5, "x2": -4.0, "y2": -4.0}]}, "mark": {"type": "rule", "color": "#222222", "strokeWidth": 1}, "encoding": {"x2": {"field": "x2"}, "y2": {"field": "y2"}}},
{"data": {"name": "br"}, "mark": {"type": "point", "filled": true, "size": 20, "opacity": 1},
 "encoding": {"color": {"field": "s", "type": "nominal", "scale": {"domain": ["D", "B", "N", "L"], "range": ["#00ff00", "#007000", "#1e90ff", "#00ffff"]}, "legend": {"title": null, "labelExpr": "datum.label=='D'?'2D structures':datum.label=='B'?'Bulk crystals':datum.label=='N'?'Network liquid':'Molecular liquid'"}}}}
]
}
],
"config": {
"font": "DejaVu Sans",
"background": "white",
"view": {"stroke": "#262626", "strokeWidth": 1},
"axis": {"domain": false, "grid": false, "ticks": true, "tickSize": 5, "tickColor": "#000000", "tickWidth": 1, "labelFontSize": 17, "labelColor": "#000000", "labelFont": "DejaVu Sans", "labelPadding": 3, "labelOverlap": false, "labelFlush": false, "titleFontSize": 20, "titleFont": "DejaVu Sans", "titleFontWeight": "normal", "titleColor": "#000000"},
"axisX": {"titlePadding": 4},
"axisY": {"titlePadding": 8},
"title": {"fontSize": 20, "fontWeight": "normal", "font": "DejaVu Sans", "color": "#000000", "offset": 3, "baseline": "alphabetic"},
"legend": {"orient": "top-left", "offset": 7, "padding": 6, "fillColor": "rgba(255,255,255,0.8)", "strokeColor": "#d6d6d6", "cornerRadius": 3, "labelFontSize": 14.5, "labelFont": "DejaVu Sans", "labelColor": "#000000", "symbolSize": 64, "symbolType": "circle", "symbolStrokeWidth": 0, "symbolOpacity": 1, "rowPadding": 7, "symbolOffset": 10, "labelOffset": 18}
}
}
